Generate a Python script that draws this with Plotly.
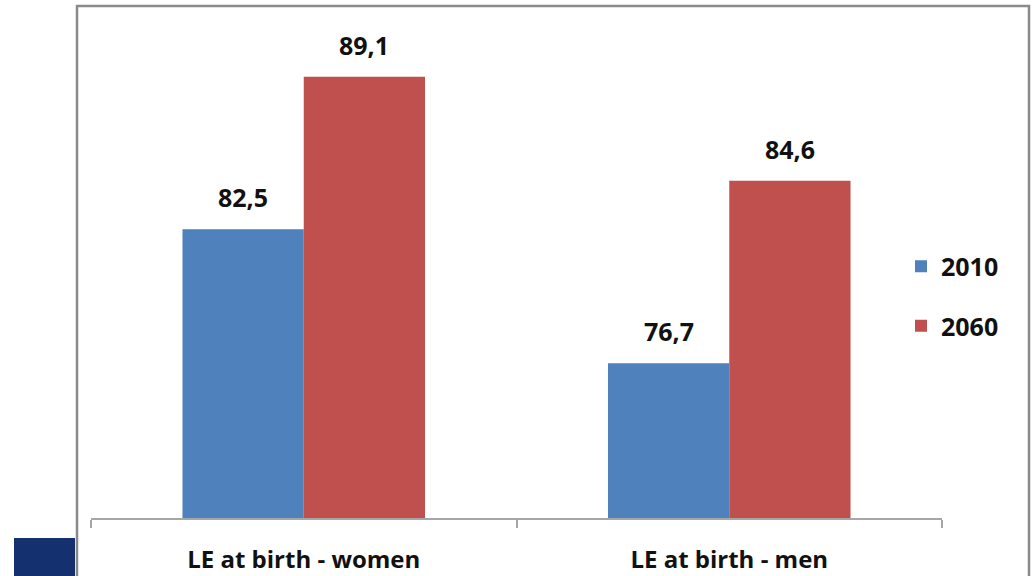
import plotly.graph_objects as go

categories = ["LE at birth - women", "LE at birth - men"]
series_names = ["2010", "2060"]
values_2010 = [82.5, 76.7]
values_2060 = [89.1, 84.6]
colors = ["#4f81bd", "#c0504d"]

FONT = "Open Sans"
W, H = 1035, 576
# plot area in reference pixel coords
PX_L, PX_R, PX_B, PX_T = 91, 942, 518, 40
ml, mr = PX_L, W - PX_R
mt, mb = PX_T, H - PX_B
y_min = 70
px_per_unit = 23.1
y_max = y_min + (PX_B - PX_T) / px_per_unit

fig = go.Figure()
for name, vals, col in zip(series_names, [values_2010, values_2060], colors):
    fig.add_trace(go.Bar(
        x=categories, y=vals, name=name, legendgroup=name,
        marker=dict(color=col, line=dict(width=0)),
    ))

plot_w = PX_R - PX_L
plot_h = PX_B - PX_T
bar_px = plot_w / len(categories) * (1 - 0.43) / 2
annotations = []
for i, vals in enumerate([values_2010, values_2060]):
    shift = (i - 0.5) * bar_px
    for c, v in zip(categories, vals):
        annotations.append(dict(
            x=c, y=v, xref="x", yref="y", text=f"{v:.1f}".replace(".", ","),
            showarrow=False, xshift=shift, yshift=13, yanchor="bottom",
            font=dict(family=FONT, size=25, color="#111111", weight="bold"),
        ))

def px_to_paper_x(px):
    return (px - PX_L) / plot_w

def px_to_paper_y(py):
    return (PX_B - py) / plot_h

shapes = [
    dict(type="rect", xref="paper", yref="paper",
         x0=px_to_paper_x(77), x1=px_to_paper_x(1029),
         y0=px_to_paper_y(600), y1=px_to_paper_y(6),
         line=dict(color="#8a8a8a", width=2.5), fillcolor="rgba(0,0,0,0)", layer="above"),
    dict(type="rect", xref="paper", yref="paper",
         x0=px_to_paper_x(14), x1=px_to_paper_x(75),
         y0=px_to_paper_y(600), y1=px_to_paper_y(538),
         line=dict(width=0), fillcolor="#15306f", layer="above"),
]

fig.update_layout(
    width=W, height=H,
    margin=dict(l=ml, r=mr, t=mt, b=mb, autoexpand=False),
    paper_bgcolor="white", plot_bgcolor="white",
    barmode="group", bargap=0.43, bargroupgap=0,
    showlegend=True,
    legend=dict(x=px_to_paper_x(901), y=px_to_paper_y(296), xanchor="left", yanchor="middle",
                font=dict(family=FONT, size=25, color="#111111", weight="bold"),
                tracegroupgap=24, traceorder="grouped", bgcolor="rgba(0,0,0,0)"),
    annotations=annotations,
    shapes=shapes,
    font=dict(family=FONT, color="#111111"),
)
fig.update_xaxes(
    showline=True, linecolor="#a6a6a6", linewidth=2,
    ticks="outside", tickson="boundaries", ticklen=8, tickcolor="#a6a6a6", tickwidth=2,
    tickfont=dict(family=FONT, size=24, color="#111111", weight="bold"),
    ticklabelstandoff=19, showgrid=False, zeroline=False,
)
fig.update_yaxes(range=[y_min, y_max], visible=False, showgrid=False, zeroline=False)

fig.write_html(
    "out.html",
    config={"displayModeBar": False},
    post_script="document.body.style.margin='0';document.body.style.overflow='hidden';",
)
